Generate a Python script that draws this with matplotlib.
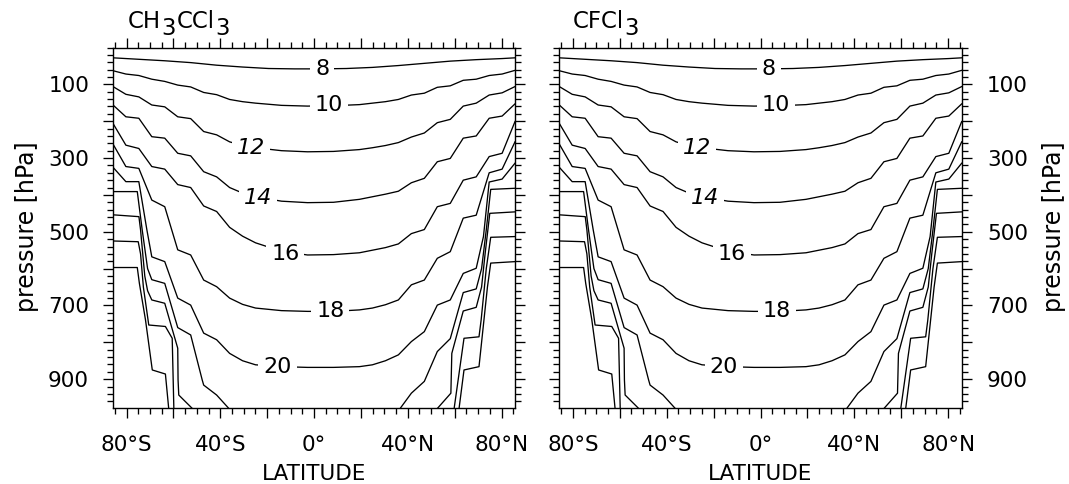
import matplotlib.pyplot as plt
from matplotlib.ticker import MultipleLocator

# contour lines (latitude, pressure hPa)
lat_a = [-85.76, -80.27, -74.74, -69.21, -63.68, -58.14, -52.61, -47.07, -41.54, -36.0,
         -30.47, -24.93, -13.85, -2.77, 8.31, 19.39, 24.93, 30.47, 36.0, 41.54,
         47.07, 52.61, 58.14, 63.68, 69.21, 74.74, 80.27, 85.76]

lat_8 = [-85.76, -74.74, -63.68, -52.61, -41.54, -30.47, -19.39, -8.31, 2.77, 13.85,
         24.93, 36.0, 47.07, 58.14, 69.21, 80.27, 85.76]
p_8 = [28, 32, 36, 41, 48, 53, 57, 58, 58, 57, 54, 49, 43, 37, 33, 30, 28]

lat_10 = [-85.76, -80.27, -74.74, -69.21, -63.68, -58.14, -52.61, -47.07, -41.54, -36.0,
          -30.47, -24.93, -13.85, -2.77, 8.31, 19.39, 30.47, 36.0, 41.54, 47.07,
          52.61, 58.14, 63.68, 69.21, 74.74, 80.27, 85.76]
p_10 = [63, 72, 76, 86, 92, 102, 107, 122, 128, 141, 147, 151, 157, 159, 158, 155, 147,
        141, 129, 124, 108, 104, 89, 86, 76, 72, 62]

p_12 = [106, 127, 134, 156, 161, 188, 193, 228, 237, 256, 266, 272, 280, 283, 282, 277,
        272, 266, 258, 243, 232, 204, 195, 159, 151, 129, 123, 106]
p_14 = [156, 188, 192, 242, 246, 287, 294, 337, 351, 380, 395, 405, 417, 421, 420, 412,
        405, 398, 390, 367, 355, 310, 301, 246, 240, 192, 186, 153]
p_16 = [206, 265, 274, 323, 330, 372, 380, 430, 445, 488, 512, 530, 553, 563, 562, 557,
        550, 543, 533, 505, 494, 432, 423, 360, 351, 296, 287, 201]
p_18 = [262, 323, 328, 414, 432, 549, 563, 631, 649, 680, 697, 707, 714, 716, 716, 712,
        707, 698, 685, 644, 631, 572, 554, 463, 455, 340, 330, 256]

lat_20 = [-85.76, -80.27, -74.74, -71.3, -69.21, -63.68, -58.14, -52.61, -47.07, -41.54,
          -36.0, -30.47, -24.93, -13.85, -2.77, 8.31, 19.39, 24.93, 30.47, 36.0,
          41.54, 47.07, 52.61, 58.14, 63.68, 69.21, 72.3, 74.74, 80.27, 85.76]
p_20 = [325, 364, 364, 495, 568, 581, 680, 699, 775, 793, 830, 850, 861, 866, 868, 868,
        866, 861, 850, 834, 798, 771, 699, 685, 613, 599, 513, 365, 357, 314]

lat_22s = [-85.76, -75.4, -73.3, -71.0, -69.21, -63.68, -58.14, -52.61, -47.7, -47.07,
           -41.54, -36.4]
p_22s = [391, 391, 495, 600, 630, 640, 760, 780, 902, 916, 943, 979]
lat_22n = [36.8, 41.54, 47.07, 52.61, 58.14, 63.68, 69.21, 71.5, 73.5, 75.4, 85.76]
p_22n = [979, 938, 906, 825, 790, 665, 655, 600, 495, 385, 382]

lat_24s = [-85.76, -74.7, -74.0, -72.2, -71.0, -69.21, -63.68, -58.14, -58.0, -57.7, -52.0]
p_24s = [454, 459, 495, 620, 660, 685, 694, 816, 902, 943, 979]
lat_24n = [52.7, 58.4, 58.8, 63.68, 69.21, 71.5, 73.0, 75.0, 85.76]
p_24n = [979, 938, 830, 715, 705, 650, 560, 450, 446]

lat_26s = [-85.76, -75.0, -74.0, -72.8, -70.5, -63.4, -60.5, -59.8]
p_26s = [525, 527, 560, 650, 753, 757, 789, 979]
lat_26n = [59.8, 64.0, 70.4, 71.3, 73.5, 75.4, 85.76]
p_26n = [979, 789, 785, 740, 600, 515, 513]

lat_28s = [-85.76, -75.4, -74.5, -71.9, -69.0, -63.4, -62.0]
p_28s = [597, 597, 640, 739, 875, 886, 979]
lat_28n = [61.9, 64.0, 70.4, 72.5, 74.0, 75.4, 85.76]
p_28n = [979, 875, 866, 740, 650, 585, 581]

label_text = ["8", "10", "12", "14", "16", "18", "20"]
label_lat = [3.5, 6.5, -27.0, -23.7, -12.2, 7.0, -15.6]
label_p = [57, 157, 273, 408, 561, 715, 866]
label_italic = [False, False, True, True, False, False, False]

xtick_vals = [-80, -40, 0, 40, 80]
xtick_text = ["80°S", "40°S", "0°", "40°N", "80°N"]
ytick_vals = [100, 300, 500, 700, 900]

lines = [(lat_8, p_8), (lat_10, p_10), (lat_a, p_12), (lat_a, p_14), (lat_a, p_16),
         (lat_a, p_18), (lat_20, p_20), (lat_22s, p_22s), (lat_22n, p_22n),
         (lat_24s, p_24s), (lat_24n, p_24n), (lat_26s, p_26s), (lat_26n, p_26n),
         (lat_28s, p_28s), (lat_28n, p_28n)]

plt.rcParams['font.family'] = 'DejaVu Sans'
FS = 15.5

fig = plt.figure(figsize=(10.69, 4.84), dpi=100)
W, H = 1069, 484
ax1 = fig.add_axes([113 / W, 1 - 408.3 / H, 402 / W, 360.8 / H])
ax2 = fig.add_axes([559.3 / W, 1 - 408.3 / H, 402.4 / W, 360.8 / H])


def draw_panel(ax, right_labels):
    for la, pp in lines:
        ax.plot(la, pp, color='black', lw=0.95)
    for txt, la, pp, it in zip(label_text, label_lat, label_p, label_italic):
        ax.text(la, pp, txt, fontsize=FS + 0.5, ha='center', va='center',
                style='italic' if it else 'normal', zorder=5,
                bbox=dict(boxstyle='square,pad=0.22', fc='white', ec='none'))
    ax.set_xlim(-85.76, 85.76)
    ax.set_ylim(979, 0)
    ax.set_xticks(range(-80, 81, 20))
    ax.set_xticklabels([xtick_text[xtick_vals.index(v)] if v in xtick_vals else ''
                        for v in range(-80, 81, 20)])
    ax.xaxis.set_minor_locator(MultipleLocator(5))
    ax.set_yticks(range(100, 901, 100))
    ax.set_yticklabels([str(v) if v in ytick_vals else '' for v in range(100, 901, 100)])
    ax.yaxis.set_minor_locator(MultipleLocator(20))
    ax.tick_params(which='both', direction='out', top=True, right=True, width=0.95,
                   labelsize=FS, colors='black')
    ax.tick_params(which='major', length=7.2)
    ax.tick_params(which='minor', length=4)
    ax.tick_params(axis='x', pad=12)
    ax.tick_params(axis='y', pad=10)
    if right_labels:
        ax.tick_params(axis='y', labelleft=False, labelright=True, pad=11)
    for s in ax.spines.values():
        s.set_linewidth(1.0)


draw_panel(ax1, False)
draw_panel(ax2, True)

for xc in (314, 760):
    fig.text(xc / W, 1 - 474 / H, 'LATITUDE', fontsize=FS, ha='center', va='center')
for xc in (27, 1054):
    fig.text(xc / W, 1 - 227 / H, 'pressure [hPa]', rotation=90, fontsize=FS + 1.5,
             ha='center', va='center')


def chem_title(x_px, parts):
    # chemical formula with full-size, lowered subscripts
    r = fig.canvas.get_renderer()
    x = x_px / W
    for s, sub in parts:
        y = 28.5 + (6.5 if sub else 0)
        t = fig.text(x, 1 - y / H, s, fontsize=FS + 1, ha='left', va='baseline')
        x += (t.get_window_extent(renderer=r).width + 0.5) / W


chem_title(128, [('CH', 0), ('3', 1), ('CCl', 0), ('3', 1)])
chem_title(573, [('CFCl', 0), ('3', 1)])

fig.savefig('out.png', dpi=100)
